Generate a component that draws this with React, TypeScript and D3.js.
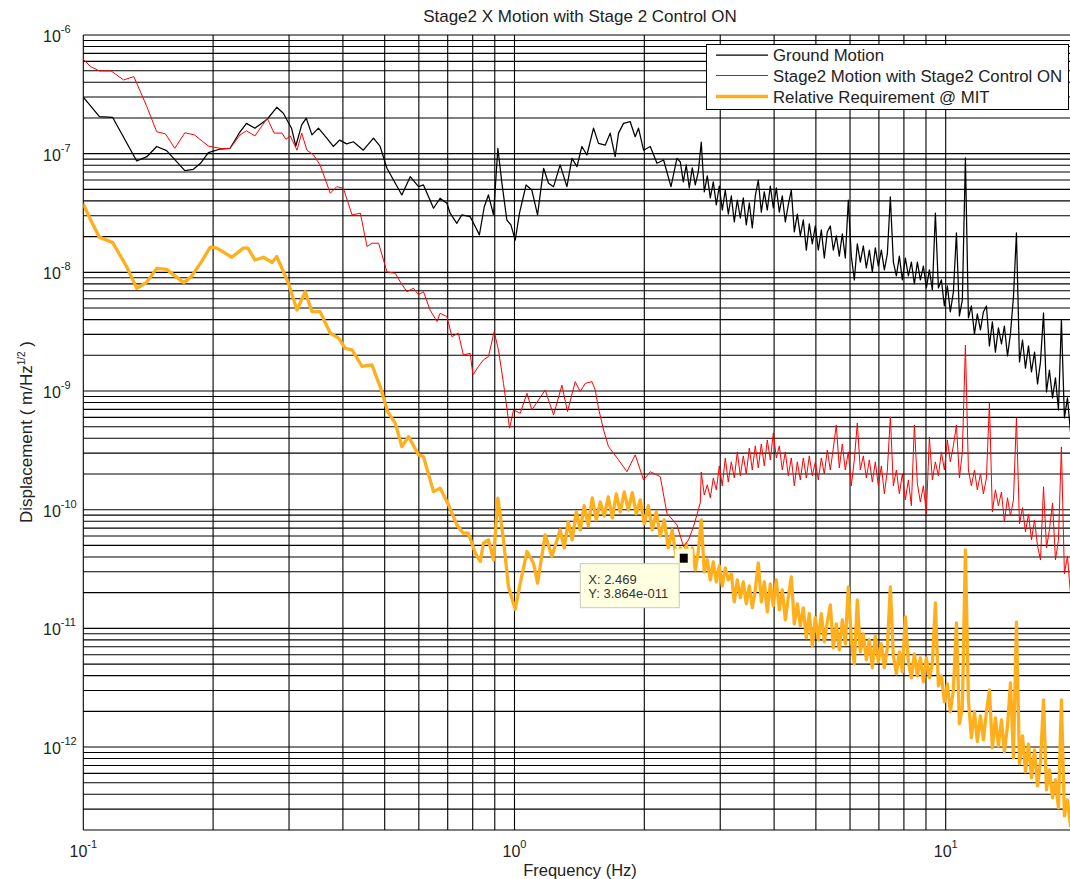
import React, { useEffect, useRef } from 'react';
import * as d3 from 'd3';

// [frequency Hz, displacement m/Hz^1/2]
const groundMotion: [number, number][] = [
  [0.1, 3.0e-7], [0.109, 2.05e-7], [0.117, 2.02e-7], [0.133, 8.68e-8], [0.1404, 9.43e-8],
  [0.148, 1.15e-7], [0.156, 1.06e-7], [0.172, 7.19e-8], [0.18, 7.39e-8], [0.187, 8.3e-8],
  [0.195, 1.02e-7], [0.207, 1.09e-7], [0.219, 1.11e-7], [0.231, 1.53e-7], [0.239, 1.8e-7],
  [0.25, 1.64e-7], [0.267, 1.95e-7], [0.281, 2.46e-7], [0.291, 2.19e-7], [0.304, 1.64e-7],
  [0.311, 1.16e-7], [0.321, 1.75e-7], [0.329, 1.99e-7], [0.339, 1.44e-7], [0.351, 1.64e-7],
  [0.367, 1.35e-7], [0.38, 1.15e-7], [0.393, 1.3e-7], [0.408, 1.21e-7], [0.423, 1.26e-7],
  [0.446, 1.07e-7], [0.471, 1.35e-7], [0.488, 1.15e-7], [0.506, 7.53e-8], [0.548, 4.49e-8],
  [0.573, 6.4e-8], [0.599, 5.27e-8], [0.615, 5.45e-8], [0.649, 3.47e-8], [0.672, 4.21e-8],
  [0.697, 3.82e-8], [0.709, 3.15e-8], [0.735, 2.59e-8], [0.755, 3.05e-8], [0.789, 2.95e-8],
  [0.811, 2.43e-8], [0.829, 2.07e-8], [0.851, 3.57e-8], [0.87, 4.49e-8], [0.894, 3.05e-8],
  [0.915, 1.11e-7], [0.935, 5.64e-8], [0.96, 2.76e-8], [0.981, 2.51e-8], [1.004, 1.87e-8],
  [1.027, 3.15e-8], [1.064, 5.45e-8], [1.097, 4.94e-8], [1.131, 3.05e-8], [1.168, 7.53e-8],
  [1.199, 5.64e-8], [1.232, 5.27e-8], [1.276, 8.04e-8], [1.323, 5.27e-8], [1.359, 9.14e-8],
  [1.396, 7.77e-8], [1.433, 1.15e-7], [1.472, 9.75e-8], [1.525, 1.64e-7], [1.566, 1.22e-7],
  [1.623, 1.18e-7], [1.667, 1.49e-7], [1.712, 9.43e-8], [1.743, 1.49e-7], [1.79, 1.8e-7],
  [1.855, 1.86e-7], [1.905, 1.39e-7], [1.939, 1.64e-7], [1.992, 1.07e-7], [2.065, 1.15e-7],
  [2.14, 8.3e-8], [2.217, 8.85e-8], [2.306, 5.27e-8], [2.381, 9.14e-8],
  [2.424, 8.51e-8], [2.463, 5.78e-8], [2.502, 8.03e-8], [2.543, 5.14e-8], [2.584, 7.58e-8],
  [2.626, 5.45e-8], [2.668, 7.01e-8], [2.711, 1.25e-7], [2.755, 4.76e-8], [2.8, 6.49e-8],
  [2.845, 4.24e-8], [2.891, 5.78e-8], [2.938, 3.7e-8], [2.985, 5.34e-8], [3.033, 3.35e-8],
  [3.082, 4.94e-8], [3.132, 3.1e-8], [3.183, 4.4e-8], [3.234, 2.66e-8], [3.286, 4.07e-8],
  [3.34, 2.87e-8], [3.393, 4.24e-8], [3.448, 2.51e-8], [3.504, 3.84e-8], [3.56, 2.37e-8],
  [3.618, 4.4e-8], [3.676, 6.0e-8], [3.736, 3.22e-8], [3.796, 4.76e-8], [3.857, 3.35e-8],
  [3.92, 5.34e-8], [3.983, 3.49e-8], [4.048, 5.14e-8], [4.113, 3.22e-8], [4.179, 4.4e-8],
  [4.247, 2.66e-8], [4.315, 3.7e-8], [4.385, 4.94e-8], [4.456, 2.19e-8], [4.528, 3.1e-8],
  [4.601, 2.03e-8], [4.675, 2.77e-8], [4.751, 1.54e-8], [4.827, 2.56e-8], [4.905, 1.74e-8],
  [4.985, 2.46e-8], [5.065, 1.54e-8], [5.147, 2.28e-8], [5.23, 1.32e-8], [5.314, 2.19e-8],
  [5.4, 2.46e-8], [5.488, 1.54e-8], [5.576, 2.03e-8], [5.666, 1.37e-8], [5.758, 2.11e-8],
  [5.851, 1.32e-8], [5.945, 4.07e-8], [6.041, 1.37e-8], [6.139, 8.63e-9], [6.238, 1.74e-8],
  [6.339, 1.22e-8], [6.441, 1.67e-8], [6.546, 1.09e-8], [6.652, 1.54e-8], [6.759, 1.01e-8],
  [6.868, 1.61e-8], [6.979, 1.13e-8], [7.092, 1.54e-8], [7.207, 1.05e-8], [7.323, 1.43e-8],
  [7.441, 4.32e-8], [7.562, 1.22e-8], [7.684, 9.33e-9], [7.808, 1.37e-8], [7.934, 8.63e-9],
  [8.062, 1.32e-8], [8.193, 9.33e-9], [8.325, 1.22e-8], [8.46, 7.98e-9], [8.596, 1.22e-8],
  [8.735, 8.63e-9], [8.876, 1.13e-8], [9.02, 7.39e-9], [9.165, 1.05e-8], [9.313, 7.11e-9],
  [9.464, 3.16e-8], [9.617, 7.39e-9], [9.772, 8.63e-9], [9.93, 5.21e-9], [10.09, 7.68e-9],
  [10.25, 4.64e-9], [10.42, 6.84e-9], [10.59, 2.15e-8], [10.76, 4.29e-9], [10.93, 5.86e-9],
  [11.11, 9.2e-8], [11.29, 4.13e-9], [11.47, 5.21e-9], [11.66, 3.03e-9], [11.84, 4.46e-9],
  [12.04, 3.27e-9], [12.23, 4.64e-9], [12.43, 5.21e-9], [12.63, 2.4e-9], [12.83, 3.82e-9],
  [13.04, 2.13e-9], [13.25, 3.4e-9], [13.47, 2.49e-9], [13.68, 3.53e-9], [13.91, 1.98e-9],
  [14.13, 3.03e-9], [14.36, 6.2e-9], [14.59, 2.15e-8], [14.83, 1.76e-9], [15.07, 2.69e-9],
  [15.31, 1.56e-9], [15.56, 2.4e-9], [15.81, 1.45e-9], [16.07, 2.13e-9], [16.33, 1.15e-9],
  [16.59, 1.76e-9], [16.86, 4.55e-9], [17.13, 9.83e-10], [17.4, 1.5e-9], [17.69, 8.75e-10],
  [17.97, 1.29e-9], [18.26, 6.93e-10], [18.55, 3.97e-9], [18.85, 5.93e-10], [19.16, 8.75e-10],
  [19.47, 4.52e-10], [20, 5.71e-10],
];

const stage2Motion: [number, number][] = [
  [0.1, 6.24e-7], [0.104, 5.41e-7], [0.109, 4.98e-7], [0.116, 4.98e-7], [0.124, 4.18e-7],
  [0.131, 4.46e-7], [0.1404, 2.49e-7], [0.148, 1.53e-7], [0.155, 1.47e-7], [0.163, 1.11e-7],
  [0.172, 1.5e-7], [0.181, 1.44e-7], [0.195, 1.16e-7], [0.21, 1.1e-7], [0.219, 1.11e-7],
  [0.231, 1.44e-7], [0.239, 1.56e-7], [0.25, 1.41e-7], [0.267, 1.99e-7], [0.277, 1.49e-7],
  [0.289, 1.49e-7], [0.295, 1.32e-7], [0.302, 1.41e-7], [0.313, 1.07e-7], [0.321, 1.49e-7],
  [0.33, 1.07e-7], [0.342, 9.75e-8], [0.354, 8.04e-8], [0.374, 4.64e-8], [0.387, 5.27e-8],
  [0.401, 5.12e-8], [0.42, 3.05e-8], [0.439, 3.15e-8], [0.455, 1.65e-8], [0.467, 1.76e-8],
  [0.484, 1.76e-8], [0.506, 1.01e-8], [0.529, 9.82e-9], [0.543, 8.36e-9], [0.563, 6.87e-9],
  [0.583, 7.35e-9], [0.599, 6.46e-9], [0.615, 6.87e-9], [0.637, 4.82e-9], [0.661, 3.85e-9],
  [0.672, 4.52e-9], [0.697, 4.24e-9], [0.716, 2.87e-9], [0.741, 3.07e-9], [0.761, 2.01e-9],
  [0.789, 2.08e-9], [0.801, 1.37e-9], [0.825, 1.61e-9], [0.847, 1.83e-9], [0.87, 1.95e-9],
  [0.897, 3.16e-9], [0.918, 2.22e-9], [0.943, 1.16e-9], [0.974, 4.86e-10], [0.995, 6.93e-10],
  [1.031, 6.5e-10], [1.069, 9.57e-10], [1.097, 6.93e-10], [1.137, 8.41e-10], [1.178, 1.02e-9],
  [1.232, 6.29e-10], [1.288, 1.12e-9], [1.327, 6.7e-10], [1.383, 1.2e-9], [1.42, 9.89e-10],
  [1.459, 1.16e-9], [1.512, 1.2e-9], [1.539, 1.02e-9], [1.566, 7.16e-10], [1.609, 4.7e-10],
  [1.652, 3.4e-10], [1.743, 2.63e-10], [1.823, 2.09e-10], [1.905, 2.9e-10], [1.992, 1.78e-10],
  [2.065, 2.09e-10], [2.178, 1.9e-10], [2.257, 9.33e-11], [2.381, 7.45e-11], [2.466, 4.89e-11],
  [2.533, 5.57e-11], [2.602, 7.21e-11], [2.697, 1.14e-10],
  [2.711, 2.08e-10], [2.755, 1.33e-10], [2.8, 1.62e-10], [2.845, 1.26e-10], [2.891, 1.85e-10],
  [2.938, 1.47e-10], [2.985, 2.34e-10], [3.033, 1.59e-10], [3.082, 2.73e-10], [3.132, 1.71e-10],
  [3.183, 2.53e-10], [3.234, 1.85e-10], [3.286, 3.07e-10], [3.34, 1.93e-10], [3.393, 2.84e-10],
  [3.448, 2.0e-10], [3.504, 3.31e-10], [3.56, 2.16e-10], [3.618, 3.45e-10], [3.676, 2.25e-10],
  [3.736, 3.58e-10], [3.796, 2.34e-10], [3.857, 3.87e-10], [3.92, 2.63e-10], [3.983, 4.44e-10],
  [4.048, 2.73e-10], [4.113, 3.45e-10], [4.179, 2.16e-10], [4.247, 3.07e-10], [4.315, 1.93e-10],
  [4.385, 2.73e-10], [4.456, 1.59e-10], [4.528, 2.53e-10], [4.601, 1.78e-10], [4.675, 2.73e-10],
  [4.751, 1.85e-10], [4.827, 2.84e-10], [4.905, 1.93e-10], [4.985, 2.53e-10], [5.065, 1.78e-10],
  [5.147, 2.73e-10], [5.23, 2.0e-10], [5.314, 3.19e-10], [5.4, 2.16e-10], [5.488, 3.31e-10],
  [5.576, 5.18e-10], [5.666, 2.25e-10], [5.758, 3.58e-10], [5.851, 2.16e-10], [5.945, 3.07e-10],
  [6.041, 1.59e-10], [6.139, 2.63e-10], [6.238, 5.38e-10], [6.339, 2.16e-10], [6.441, 2.84e-10],
  [6.546, 1.85e-10], [6.652, 2.63e-10], [6.759, 1.71e-10], [6.868, 2.53e-10], [6.979, 1.59e-10],
  [7.092, 2.34e-10], [7.207, 1.36e-10], [7.323, 2.16e-10], [7.441, 6.05e-10], [7.562, 1.59e-10],
  [7.684, 2.16e-10], [7.808, 1.36e-10], [7.934, 2.0e-10], [8.062, 1.21e-10], [8.193, 1.78e-10],
  [8.325, 1.08e-10], [8.46, 5.18e-10], [8.596, 1.65e-10], [8.735, 1.16e-10], [8.876, 1.59e-10],
  [9.02, 9.22e-11], [9.165, 4.1e-10], [9.313, 1.78e-10], [9.464, 2.53e-10], [9.617, 1.93e-10],
  [9.772, 3.07e-10], [9.93, 2.16e-10], [10.09, 3.87e-10], [10.25, 2.53e-10], [10.42, 3.45e-10],
  [10.59, 5.18e-10], [10.76, 1.85e-10], [10.93, 3.07e-10], [11.11, 2.44e-9], [11.29, 2.16e-10],
  [11.47, 1.59e-10], [11.66, 2.16e-10], [11.84, 1.47e-10], [12.04, 2.0e-10], [12.23, 1.36e-10],
  [12.43, 1.85e-10], [12.63, 7.94e-10], [12.83, 9.58e-11], [13.04, 1.47e-10], [13.25, 1.08e-10],
  [13.47, 1.41e-10], [13.68, 7.89e-11], [13.91, 1.26e-10], [14.13, 8.87e-11], [14.36, 1.21e-10],
  [14.59, 5.93e-10], [14.83, 7.59e-11], [15.07, 1.04e-10], [15.31, 6.5e-11], [15.56, 9.22e-11],
  [15.81, 5.57e-11], [16.07, 8.2e-11], [16.33, 4.95e-11], [16.59, 3.78e-11], [16.86, 1.56e-10],
  [17.13, 4.76e-11], [17.4, 6.76e-11], [17.69, 1.14e-10], [17.97, 3.78e-11], [18.26, 5.57e-11],
  [18.55, 3.38e-10], [18.85, 2.88e-11], [19.16, 4.08e-11], [19.47, 1.95e-11], [20, 2.82e-11],
];

const requirement: [number, number][] = [
  [0.1, 3.77e-8], [0.104, 2.76e-8], [0.109, 1.98e-8], [0.117, 1.78e-8], [0.126, 1.12e-8],
  [0.133, 7.35e-9], [0.14, 8.19e-9], [0.148, 1.08e-8], [0.156, 1.06e-8], [0.171, 8.19e-9],
  [0.178, 9.2e-9], [0.188, 1.23e-8], [0.197, 1.63e-8], [0.204, 1.6e-8], [0.221, 1.34e-8],
  [0.235, 1.6e-8], [0.241, 1.6e-8], [0.25, 1.27e-8], [0.262, 1.34e-8], [0.274, 1.21e-8],
  [0.281, 1.36e-8], [0.299, 8.09e-9], [0.313, 4.82e-9], [0.327, 6.87e-9], [0.339, 4.67e-9],
  [0.354, 4.67e-9], [0.374, 3.07e-9], [0.391, 2.79e-9], [0.405, 2.29e-9], [0.42, 2.22e-9],
  [0.443, 1.61e-9], [0.467, 1.66e-9], [0.488, 1.09e-9], [0.508, 6.7e-10], [0.529, 5.36e-10],
  [0.548, 3.4e-10], [0.568, 4.13e-10], [0.599, 2.9e-10], [0.615, 2.81e-10], [0.649, 1.42e-10],
  [0.672, 1.52e-10], [0.703, 1.1e-10], [0.735, 7.45e-11], [0.761, 6.34e-11], [0.782, 6.34e-11],
  [0.811, 4.3e-11], [0.833, 3.66e-11], [0.847, 5.22e-11], [0.87, 5.57e-11], [0.894, 3.78e-11],
  [0.915, 1.25e-10], [0.943, 5.57e-11], [0.968, 2.25e-11], [1.004, 1.45e-11], [1.031, 2.4e-11],
  [1.069, 4.44e-11], [1.107, 3.54e-11], [1.131, 2.4e-11], [1.178, 6.14e-11], [1.221, 4.03e-11],
  [1.276, 6.76e-11], [1.304, 4.76e-11], [1.332, 7.89e-11], [1.361, 5.57e-11], [1.391, 9.58e-11],
  [1.421, 6.76e-11], [1.451, 1.08e-10], [1.483, 7.3e-11], [1.515, 1.26e-10], [1.548, 8.2e-11],
  [1.581, 1.16e-10], [1.615, 8.87e-11], [1.65, 1.28e-10], [1.686, 8.53e-11], [1.722, 1.36e-10],
  [1.759, 9.58e-11], [1.797, 1.41e-10], [1.836, 9.96e-11], [1.876, 1.39e-10], [1.916, 9.22e-11],
  [1.957, 1.21e-10], [2.0, 7.59e-11], [2.043, 1.08e-10], [2.087, 6.76e-11], [2.132, 9.58e-11],
  [2.178, 6.01e-11], [2.225, 8.2e-11], [2.273, 4.76e-11], [2.322, 6.76e-11], [2.372, 3.92e-11],
  [2.424, 4.76e-11], [2.469, 3.864e-11], [2.502, 5.15e-11], [2.543, 3.36e-11], [2.584, 4.76e-11],
  [2.626, 3.11e-11], [2.668, 4.41e-11], [2.711, 8.2e-11], [2.755, 2.99e-11], [2.8, 3.78e-11],
  [2.845, 2.56e-11], [2.891, 3.63e-11], [2.938, 2.46e-11], [2.985, 3.36e-11], [3.033, 2.28e-11],
  [3.082, 3.23e-11], [3.132, 2.56e-11], [3.183, 2.88e-11], [3.234, 1.67e-11], [3.286, 2.56e-11],
  [3.34, 1.81e-11], [3.393, 2.46e-11], [3.448, 1.61e-11], [3.504, 2.28e-11], [3.56, 1.49e-11],
  [3.618, 2.11e-11], [3.676, 3.56e-11], [3.736, 1.67e-11], [3.796, 2.46e-11], [3.857, 1.38e-11],
  [3.92, 2.37e-11], [3.983, 1.55e-11], [4.048, 2.56e-11], [4.113, 1.43e-11], [4.179, 2.11e-11],
  [4.247, 1.18e-11], [4.315, 1.81e-11], [4.385, 2.72e-11], [4.456, 1.09e-11], [4.528, 1.61e-11],
  [4.601, 1.05e-11], [4.675, 1.49e-11], [4.751, 8.32e-12], [4.827, 1.33e-11], [4.905, 7.12e-12],
  [4.985, 1.23e-11], [5.065, 8.0e-12], [5.147, 1.33e-11], [5.23, 7.7e-12], [5.314, 1.13e-11],
  [5.4, 1.58e-11], [5.488, 6.85e-12], [5.576, 1.09e-11], [5.666, 6.59e-12], [5.758, 1.18e-11],
  [5.851, 7.4e-12], [5.945, 2.24e-11], [6.041, 8.0e-12], [6.139, 5.02e-12], [6.238, 1.74e-11],
  [6.339, 6.34e-12], [6.441, 8.99e-12], [6.546, 5.43e-12], [6.652, 8.0e-12], [6.759, 4.65e-12],
  [6.868, 8.65e-12], [6.979, 5.22e-12], [7.092, 7.4e-12], [7.207, 4.65e-12], [7.323, 6.85e-12],
  [7.441, 2.24e-11], [7.562, 5.87e-12], [7.684, 4.14e-12], [7.808, 6.34e-12], [7.934, 4.3e-12],
  [8.062, 1.25e-11], [8.193, 5.22e-12], [8.325, 3.83e-12], [8.46, 6.1e-12], [8.596, 3.98e-12],
  [8.735, 5.64e-12], [8.876, 3.54e-12], [9.02, 5.64e-12], [9.165, 3.83e-12], [9.313, 5.02e-12],
  [9.464, 1.64e-11], [9.617, 3.28e-12], [9.772, 3.98e-12], [9.93, 2.4e-12], [10.09, 3.41e-12],
  [10.25, 1.98e-12], [10.42, 3.03e-12], [10.59, 1.11e-11], [10.76, 1.57e-12], [10.93, 2.14e-12],
  [11.11, 4.59e-11], [11.29, 2.5e-12], [11.47, 1.2e-12], [11.66, 1.98e-12], [11.84, 1.11e-12],
  [12.04, 1.83e-12], [12.23, 1.15e-12], [12.43, 1.98e-12], [12.63, 3.03e-12], [12.83, 9.85e-13],
  [13.04, 1.76e-12], [13.25, 1.02e-12], [13.47, 1.69e-12], [13.68, 9.11e-13], [13.91, 1.51e-12],
  [14.13, 3.47e-12], [14.36, 8.11e-13], [14.59, 1.13e-11], [14.83, 7.22e-13], [15.07, 1.24e-12],
  [15.31, 6.18e-13], [15.56, 1.06e-12], [15.81, 5.5e-13], [16.07, 9.47e-13], [16.33, 4.71e-13],
  [16.59, 7.5e-13], [16.86, 2.5e-12], [17.13, 4.36e-13], [17.4, 6.43e-13], [17.69, 3.73e-13],
  [17.97, 5.29e-13], [18.26, 3.07e-13], [18.55, 2.5e-12], [18.85, 2.63e-13], [19.16, 3.59e-13],
  [19.47, 2.17e-13], [20, 2.85e-13],
];

const seriesNames = ['Ground Motion', 'Stage2 Motion with Stage2 Control ON', 'Relative Requirement @ MIT'];
const seriesColors = ['#000000', '#ff0000', '#ffae1c'];
const seriesWidths = [1.25, 1, 3.3];
const xTickExps = [-1, 0, 1];
const yTickExps = [-12, -11, -10, -9, -8, -7, -6];
const datatipX = 2.469;
const datatipY = 3.864e-11;
const datatipLines = ['X: 2.469', 'Y: 3.864e-011'];

const FONT = '"Liberation Sans", Arial, sans-serif';

export default function App() {
  const ref = useRef<SVGSVGElement>(null);

  useEffect(() => {
    const svg = d3.select(ref.current);
    svg.selectAll('*').remove();

    const x = d3.scaleLog().domain([0.1, 20]).range([83.3, 1075.5]);
    const y = d3.scaleLog().domain([2e-13, 1e-6]).range([830, 35]);

    svg.append('rect').attr('width', 1070).attr('height', 879).attr('fill', '#fff');
    svg.append('clipPath').attr('id', 'plotclip').append('rect')
      .attr('x', x(0.1)).attr('y', y(1e-6)).attr('width', x(20) - x(0.1)).attr('height', y(2e-13) - y(1e-6));

    // grid: every 1..9 per decade
    const xGrid: number[] = [];
    [0.1, 1, 10].forEach(d => d3.range(1, 10).forEach(m => { if (m * d <= 20.0001) xGrid.push(m * d); }));
    const yGrid: number[] = [];
    [1e-13, 1e-12, 1e-11, 1e-10, 1e-9, 1e-8, 1e-7].forEach(d => d3.range(1, 10).forEach(m => {
      const v = m * d;
      if (v >= 1.9999e-13 && v <= 1e-6) yGrid.push(v);
    }));
    yGrid.push(1e-6);

    const grid = svg.append('g').attr('stroke', '#000').attr('stroke-width', 1.1);
    grid.selectAll('line.gx').data(xGrid).enter().append('line')
      .attr('x1', d => x(d)).attr('x2', d => x(d)).attr('y1', y(1e-6)).attr('y2', y(2e-13));
    grid.selectAll('line.gy').data(yGrid).enter().append('line')
      .attr('x1', x(0.1)).attr('x2', x(20)).attr('y1', d => y(d)).attr('y2', d => y(d));

    // curves
    const line = d3.line<[number, number]>().x(d => x(d[0])).y(d => y(d[1]));
    const curves: [number, number][][] = [groundMotion, stage2Motion, requirement];
    const plot = svg.append('g').attr('clip-path', 'url(#plotclip)');
    [2, 0, 1].forEach(i => {
      plot.append('path')
        .datum(curves[i])
        .attr('fill', 'none')
        .attr('stroke', seriesColors[i])
        .attr('stroke-width', seriesWidths[i])
        .attr('stroke-linejoin', 'round')
        .attr('d', line);
    });

    // tick labels
    const txt = svg.append('g').attr('font-family', FONT).attr('fill', '#222');
    yTickExps.forEach(e => {
      const t = txt.append('text').attr('x', 43).attr('y', y(Math.pow(10, e)) + 7).attr('font-size', 16);
      t.append('tspan').text('10');
      t.append('tspan').attr('dy', -9).attr('font-size', 11).text(String(e));
    });
    xTickExps.forEach(e => {
      const t = txt.append('text').attr('x', x(Math.pow(10, e))).attr('y', 857)
        .attr('text-anchor', 'middle').attr('font-size', 16);
      t.append('tspan').text('10');
      t.append('tspan').attr('dy', -9).attr('font-size', 11).text(String(e));
    });

    // title and axis labels
    txt.append('text').attr('x', 580).attr('y', 22).attr('text-anchor', 'middle').attr('font-size', 17)
      .text('Stage2 X Motion with Stage 2 Control ON');
    txt.append('text').attr('x', 580).attr('y', 876).attr('text-anchor', 'middle').attr('font-size', 16.5)
      .text('Frequency (Hz)');
    const ylab = txt.append('text').attr('transform', 'translate(32,432) rotate(-90)')
      .attr('text-anchor', 'middle').attr('font-size', 17);
    ylab.append('tspan').text('Displacement ( m/Hz');
    ylab.append('tspan').attr('dy', -7).attr('font-size', 10).text('1/2');
    ylab.append('tspan').attr('dy', 7).text(' )');

    // legend
    const lg = svg.append('g').attr('font-family', FONT);
    lg.append('rect').attr('x', 706.5).attr('y', 44.5).attr('width', 362).attr('height', 65)
      .attr('fill', '#fff').attr('stroke', '#000').attr('stroke-width', 1);
    seriesNames.forEach((name, i) => {
      const ly = [55, 75.5, 96.5][i];
      lg.append('line').attr('x1', 716).attr('x2', 768).attr('y1', ly).attr('y2', ly)
        .attr('stroke', seriesColors[i]).attr('stroke-width', seriesWidths[i]);
      lg.append('text').attr('x', 773).attr('y', ly + 6).attr('font-size', 16.8).attr('fill', '#222').text(name);
    });

    // data tip
    const mx = x(datatipX);
    const my = y(datatipY);
    const tip = svg.append('g').attr('font-family', FONT);
    tip.append('rect').attr('x', mx - 9).attr('y', my - 10).attr('width', 18).attr('height', 19)
      .attr('fill', '#ffffe1');
    tip.append('rect').attr('x', mx - 4).attr('y', my - 5).attr('width', 8).attr('height', 9).attr('fill', '#000');
    tip.append('rect').attr('x', mx - 103.5).attr('y', my + 5).attr('width', 99).attr('height', 44)
      .attr('fill', '#ffffe1').attr('stroke', '#c8c8c0').attr('stroke-width', 1);
    datatipLines.forEach((s, i) => {
      tip.append('text').attr('x', mx - 95.5).attr('y', my + 25 + i * 14).attr('font-size', 13)
        .attr('fill', '#333').text(s);
    });
  }, []);

  return (
    <svg ref={ref} width={1070} height={879} style={{ position: 'absolute', left: 0, top: 0 }} />
  );
}
